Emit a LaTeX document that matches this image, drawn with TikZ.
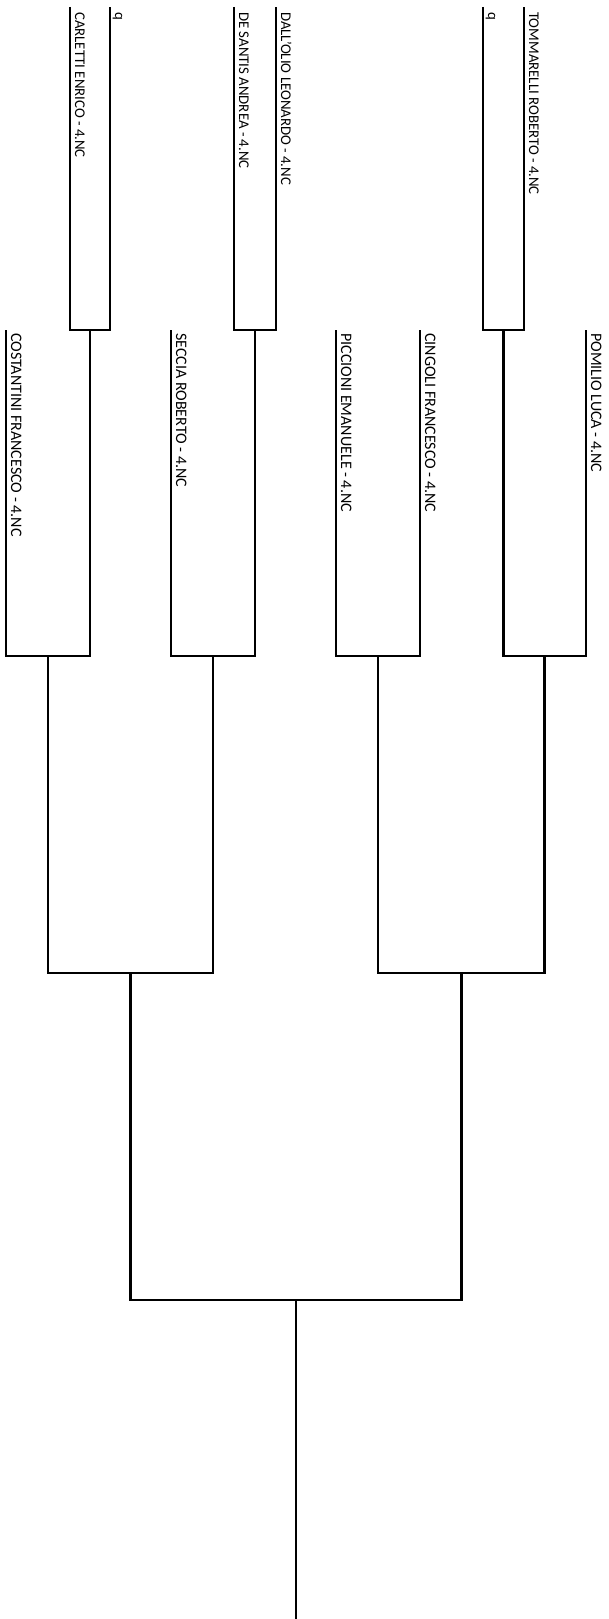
\documentclass[tikz,border=0pt]{standalone}
\usepackage{fontspec}
\setmainfont{Carlito}
\begin{document}
\begin{tikzpicture}[x=1pt,y=-1pt,
  bline/.style={line width=2.6pt, line join=miter, black},
  lbl/.style={rotate=-90, anchor=base west, inner sep=0pt, font=\fontsize{14.8}{16}\selectfont},
  lbltwo/.style={lbl, font=\fontsize{16}{18}\selectfont}]
\useasboundingbox (0,0) rectangle (609,1619);
% round 1 line tops
\coordinate (carl) at (70,7);
\coordinate (q1) at (110,7);
\coordinate (desa) at (234,7);
\coordinate (dall) at (276,7);
\coordinate (q2) at (483,7);
\coordinate (tomm) at (524,7);
% round 1 match outputs
\coordinate (m1) at (90,330);
\coordinate (m2) at (255,330);
\coordinate (m3) at (503.5,330);
% round 2 line tops
\coordinate (cost) at (6,330);
\coordinate (secc) at (171,330);
\coordinate (picc) at (336,330);
\coordinate (cing) at (420,330);
\coordinate (pomi) at (586,330);
% round 2 outputs
\coordinate (m5) at (48,656);
\coordinate (m6) at (213,656);
\coordinate (m7) at (378,656);
\coordinate (m8) at (544.75,656);
% semifinal outputs
\coordinate (m9) at (130.5,973);
\coordinate (m10) at (461.4,973);
% final
\coordinate (m11) at (296,1300);
\coordinate (fin) at (296,1619);

% round 1
\draw[bline] (carl) |- (m1) -| (q1);
\draw[bline] (desa) |- (m2) -| (dall);
\draw[bline] (q2) |- (m3) -| (tomm);
% round 2
\draw[bline] (cost) |- (m5) -| (m1);
\draw[bline] (secc) |- (m6) -| (m2);
\draw[bline] (picc) |- (m7) -| (cing);
\draw[bline] (m3) |- (m8) -| (pomi);
% semifinals
\draw[bline] (m5) |- (m9) -| (m6);
\draw[bline] (m7) |- (m10) -| (m8);
% final
\draw[bline] (m9) |- (m11) -| (m10);
\draw[bline] (m11) -- (fin);

% labels
\node[lbl] (tcarl) at ([xshift=5pt,yshift=-5pt]carl) {CARLETTI ENRICO - 4.NC};
\node[lbl] (tq1) at ([xshift=5pt,yshift=-5pt]q1) {q};
\node[lbl] (tdesa) at ([xshift=5pt,yshift=-5pt]desa) {DE SANTIS ANDREA - 4.NC};
\node[lbl] (tdall) at ([xshift=5pt,yshift=-5pt]dall) {DALL'OLIO LEONARDO - 4.NC};
\node[lbl] (tq2) at ([xshift=5pt,yshift=-5pt]q2) {q};
\node[lbl] (ttomm) at ([xshift=5pt,yshift=-5pt]tomm) {TOMMARELLI ROBERTO - 4.NC};
\node[lbltwo] (tcost) at ([xshift=5pt,yshift=-3pt]cost) {COSTANTINI FRANCESCO - 4.NC};
\node[lbltwo] (tsecc) at ([xshift=5pt,yshift=-3pt]secc) {SECCIA ROBERTO - 4.NC};
\node[lbltwo] (tpicc) at ([xshift=5pt,yshift=-3pt]picc) {PICCIONI EMANUELE - 4.NC};
\node[lbltwo] (tcing) at ([xshift=5pt,yshift=-3pt]cing) {CINGOLI FRANCESCO - 4.NC};
\node[lbltwo] (tpomi) at ([xshift=5pt,yshift=-3pt]pomi) {POMILIO LUCA - 4.NC};
\end{tikzpicture}
\end{document}
